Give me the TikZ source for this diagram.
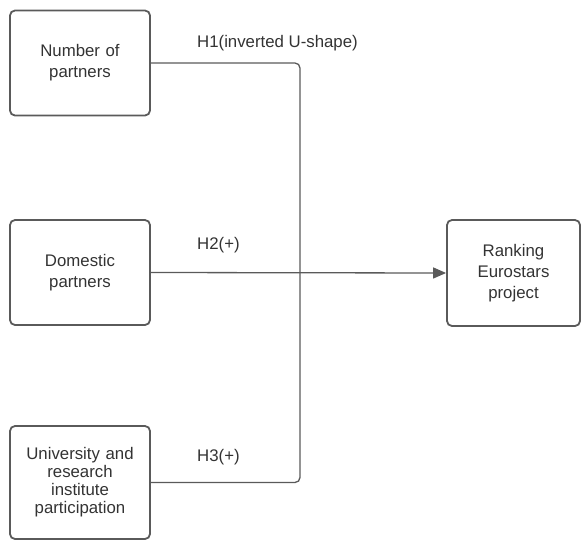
\documentclass[tikz,border=0pt]{standalone}
\usepackage{fontspec}
\setmainfont{Liberation Sans}
\usetikzlibrary{arrows.meta}
\definecolor{edge}{HTML}{5A5A5A}
\definecolor{txt}{HTML}{333333}
\begin{document}
\begin{tikzpicture}[x=1pt,y=-1pt,
  box/.style={draw=edge,line width=1.8pt,rounded corners=5pt,minimum width=140pt,text width=134pt,align=center,font=\fontsize{16.8}{18}\selectfont,text=txt,inner sep=0pt},
  conn/.style={draw=edge,line width=1.3pt},
  lab/.style={font=\fontsize{16.8}{18}\selectfont,text=txt,anchor=west,inner sep=0pt}]
\useasboundingbox (0,0) rectangle (581,541);
\node[box,minimum height=105pt] (a) at (80,63) {Number of\\[3pt]partners};
\node[box,minimum height=105pt] (b) at (80,272.5) {Domestic\\[3pt]partners};
\node[box,minimum height=113pt] (c) at (80,482.5) {University and\\research\\institute\\participation};
\node[box,minimum width=133pt,text width=125pt,minimum height=106pt] (r) at (513.5,273) {Ranking\\[3pt]Eurostars\\[3pt]project};
\coordinate (j) at (300,272.5);
\draw[conn,rounded corners=5pt] (a.east) -| (j);
\draw[conn,rounded corners=5pt] (c.east) -| (j);
\draw[conn,-{Triangle[length=13pt,width=11pt]}] (b.east) -- (r.west);
\node[lab] (l1) at (197,43) {H1(inverted U-shape)};
\node[lab] (l2) at (197,245) {H2(+)};
\node[lab] (l3) at (197,457) {H3(+)};
\end{tikzpicture}
\end{document}
